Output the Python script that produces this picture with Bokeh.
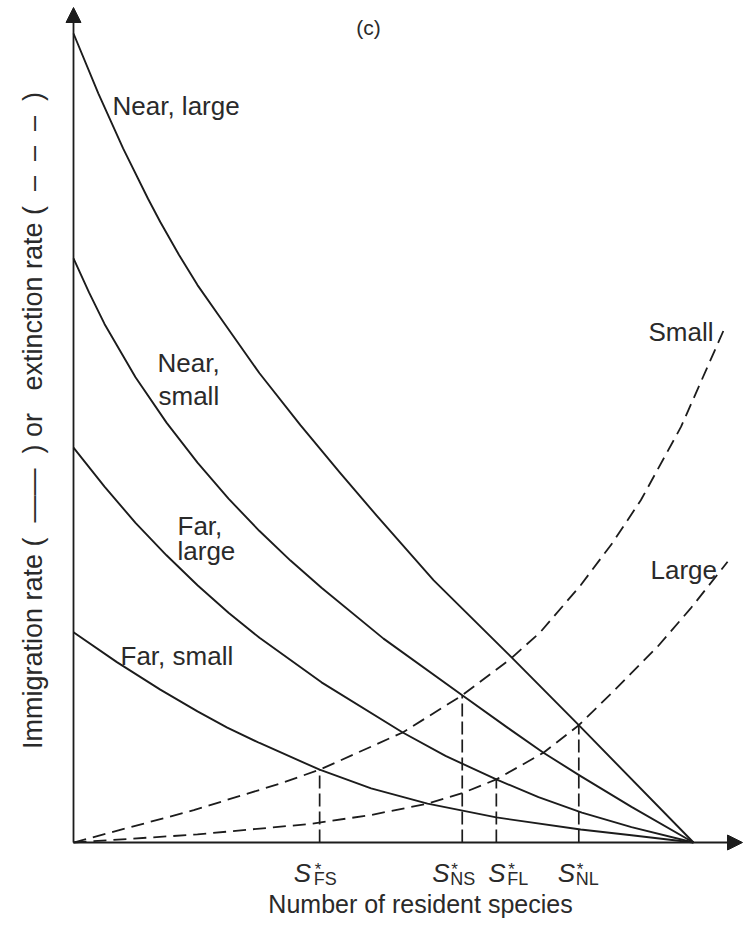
import math
from bokeh.plotting import figure
from bokeh.models import Range1d, Arrow, NormalHead
from bokeh.core.properties import value
from bokeh.embed import file_html
from bokeh.resources import INLINE

# ---------------- data ----------------
# Immigration curves (solid)
near_large_x = [0, 4, 8, 12, 14, 17, 20, 24.2, 30, 36.6, 43, 48.9, 58.1, 70.5, 81.5, 100]
near_large_y = [100, 92.6, 85.8, 79.6, 76.7, 72.65, 68.9, 64.3, 58.0, 51.6, 45.7, 40.4, 32.4, 23.0, 14.5, 0]

near_small_x = [0, 2.5, 5, 10, 15, 20, 25, 30, 35, 40, 50, 62.7, 70, 75.8, 81.8, 90, 100]
near_small_y = [72.2, 68.0, 64.1, 57.5, 51.9, 46.95, 42.5, 38.5, 34.85, 31.5, 25.2, 18.2, 14.2, 11.1, 8.2, 4.4, 0]

far_large_x = [0, 5, 10, 15, 20, 25, 30, 40, 53.1, 60, 68.2, 75, 82, 90, 100]
far_large_y = [48.8, 44.0, 39.5, 35.5, 31.8, 28.4, 25.3, 19.8, 13.6, 10.7, 7.8, 5.6, 3.7, 1.9, 0]

far_small_x = [0, 7, 14, 20, 24.8, 30, 39.7, 48, 57.1, 68.2, 81.8, 90, 100]
far_small_y = [26.0, 22.3, 18.9, 16.2, 14.2, 12.3, 9.0, 6.7, 4.8, 3.1, 1.6, 0.9, 0]

# Extinction curves (dashed)
ext_small_x = [0, 19.4, 33.4, 39.7, 53.1, 62.7, 70.5, 75.3, 81.8, 86.9, 91.5, 98, 105.2]
ext_small_y = [0, 4.0, 7.3, 9.0, 13.6, 18.2, 22.7, 26.0, 31.8, 37.0, 42.3, 51.4, 63.9]

ext_large_x = [0, 20, 38.2, 48, 57.1, 62.7, 68.2, 75.8, 81.5, 87.1, 94.2, 99.5, 105.5]
ext_large_y = [0, 1.0, 2.3, 3.4, 4.8, 6.1, 7.8, 11.1, 14.5, 18.7, 24.2, 28.9, 34.7]

# Equilibrium numbers of species
eq_names = ["FS", "NS", "FL", "NL"]
eq_x = [39.7, 62.7, 68.2, 81.5]
eq_y = [9.0, 18.2, 7.8, 14.5]

curve_labels = ["Near, large", "Near,", "small", "Far,", "large", "Far, small", "Small", "Large"]

# ---------------- layout helpers ----------------
W, H = 745, 921          # canvas size
OX, OY = 73, 842         # page pixel of the origin
SX, SY = 6.2, 8.09       # pixels per data unit
PAGE = 0                 # page offset of the canvas


def dx(px):
    return (px - OX) / SX


def dy(py):
    return (OY - py) / SY


x_range = Range1d(dx(PAGE), dx(PAGE + W))
y_range = Range1d(dy(PAGE + H), dy(PAGE))

p = figure(width=W, height=H, x_range=x_range, y_range=y_range,
           output_backend="svg", toolbar_location=None,
           min_border=0, outline_line_color=None)
p.axis.visible = False
p.grid.visible = False
p.background_fill_color = "white"
p.border_fill_color = "white"

INK = "#1c1c1c"
TXT = "#2a2a2a"
FONT = "Liberation Sans"
NB = "\u00a0"

# axes with arrowheads
p.add_layout(Arrow(end=NormalHead(size=15, fill_color=INK, line_color=INK, line_width=1),
                   x_start=0, y_start=0, x_end=0, y_end=dy(7),
                   line_color=INK, line_width=1.8))
p.add_layout(Arrow(end=NormalHead(size=15, fill_color=INK, line_color=INK, line_width=1),
                   x_start=0, y_start=0, x_end=dx(742), y_end=0,
                   line_color=INK, line_width=1.8))

# immigration curves
for xs, ys in [(near_large_x, near_large_y), (near_small_x, near_small_y),
               (far_large_x, far_large_y), (far_small_x, far_small_y)]:
    p.line(xs, ys, line_color=INK, line_width=1.9, line_join="round")

# extinction curves
for xs, ys in [(ext_small_x, ext_small_y), (ext_large_x, ext_large_y)]:
    p.line(xs, ys, line_color=INK, line_width=1.8, line_dash="13 7", line_join="round")

# drop lines to the axis
p.segment(x0=eq_x, y0=[0] * 4, x1=eq_x, y1=eq_y, line_color=INK,
          line_width=1.7, line_dash="13 5")

# curve labels (left edge, baseline) in page pixels
label_pos = [(112, 105), (157, 362), (158, 395), (177, 525), (177, 550),
             (120, 655), (648, 331), (650, 569)]
p.text(x=[dx(a) for a, b in label_pos], y=[dy(b) for a, b in label_pos],
       text=curve_labels, text_font=value(FONT), text_font_size="26px",
       text_color=TXT, text_align="left", text_baseline="alphabetic")

# S* labels under the axis
s_off = [-26, -30, -8, -21]
sub_off = [-6, -12, 11, -3]
p.text(x=eq_x, y=[dy(872)] * 4, text=["S"] * 4, x_offset=s_off,
       text_font=value(FONT), text_font_style="italic", text_font_size="26px",
       text_color=TXT, text_align="left", text_baseline="alphabetic")
p.text(x=eq_x, y=[dy(878)] * 4, text=eq_names, x_offset=sub_off,
       text_font=value(FONT), text_font_size="18px",
       text_color=TXT, text_align="left", text_baseline="alphabetic")
p.text(x=eq_x, y=[dy(869)] * 4, text=["*"] * 4, x_offset=[o + 1 for o in sub_off],
       text_font=value(FONT), text_font_size="17px",
       text_color=TXT, text_align="left", text_baseline="alphabetic")

# axis titles and panel letter
ylab = ("Immigration rate (" + NB * 2 + "\u2014\u2014" + NB * 2 + ") or" + NB * 2
        + " extinction rate (" + NB * 2 + "\u2013" + NB * 2 + "\u2013" + NB * 2
        + "\u2013" + NB * 2 + ")")
p.text(x=[dx(420)], y=[dy(903)], text=["Number of resident species"],
       text_font=value(FONT), text_font_size="25px", text_color=TXT,
       text_align="center", text_baseline="alphabetic")
p.text(x=[dx(32)], y=[dy(420)], text=[ylab],
       angle=math.pi / 2, text_font=value(FONT), text_font_size="27px",
       text_color=TXT, text_align="center", text_baseline="middle")
p.text(x=[dx(368)], y=[dy(27)], text=["(c)"], text_font=value(FONT),
       text_font_size="21px", text_color=TXT, text_align="center",
       text_baseline="alphabetic")

open("out.html", "w").write(file_html(p, INLINE))
